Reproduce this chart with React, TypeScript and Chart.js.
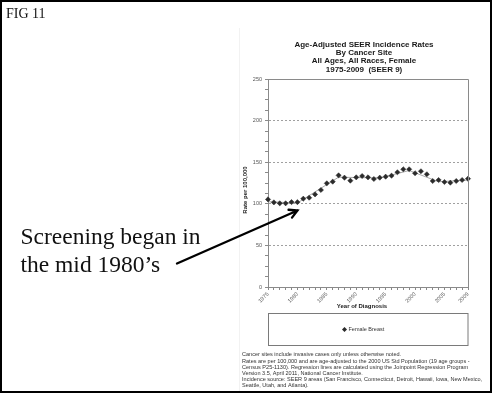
import React, { useEffect, useRef } from 'react';
import { Chart, registerables } from 'chart.js';

Chart.register(...registerables);

// ---- data ----
const years = [
  1975, 1976, 1977, 1978, 1979, 1980, 1981, 1982, 1983, 1984, 1985, 1986,
  1987, 1988, 1989, 1990, 1991, 1992, 1993, 1994, 1995, 1996, 1997, 1998,
  1999, 2000, 2001, 2002, 2003, 2004, 2005, 2006, 2007, 2008, 2009,
];
const rates = [
  105.3, 101.7, 100.6, 100.6, 102.1, 102.0, 106.1, 107.3, 111.3, 116.6, 124.6, 126.6,
  134.2, 131.4, 127.8, 131.8, 133.4, 131.8, 129.8, 131.4, 132.6, 133.8, 137.9, 141.5,
  141.5, 136.7, 139.1, 135.5, 127.4, 128.6, 126.2, 125.4, 127.4, 128.6, 130.2,
];
const trendYears = [1975, 1980, 1987, 1994, 1999, 2004, 2009];
const trendRates = [102.5, 101.0, 132.0, 131.0, 140.0, 126.5, 128.5];
const xTickLabels = [1975, 1980, 1985, 1990, 1995, 2000, 2005, 2009];
const yTickLabels = [0, 50, 100, 150, 200, 250];
const seriesName = 'Female Breast';
const titleLines = [
  'Age-Adjusted SEER Incidence Rates',
  'By Cancer Site',
  'All Ages, All Races, Female',
  '1975-2009  (SEER 9)',
];
const yAxisTitle = 'Rate per 100,000';
const xAxisTitle = 'Year of Diagnosis';
const footnoteLines = [
  'Cancer sites include invasive cases only unless otherwise noted.',
  'Rates are per 100,000 and are age-adjusted to the 2000 US Std Population (19 age groups -',
  'Census P25-1130). Regression lines are calculated using the Joinpoint Regression Program',
  'Version 3.5, April 2011, National Cancer Institute.',
  'Incidence source: SEER 9 areas (San Francisco, Connecticut, Detroit, Hawaii, Iowa, New Mexico,',
  'Seattle, Utah, and Atlanta).',
];
const figLabel = 'FIG 11';
const noteLines = ['Screening began in', 'the mid 1980\u2019s'];

const SANS = '"Liberation Sans", Arial, sans-serif';
const SERIF = '"Liberation Serif", "Times New Roman", serif';

const decorPlugin = {
  id: 'decor',
  beforeDraw(chart: any) {
    const ctx = chart.ctx;
    ctx.save();
    ctx.fillStyle = '#ffffff';
    ctx.fillRect(0, 0, chart.width, chart.height);
    ctx.restore();
  },
  afterDraw(chart: any) {
    const ctx = chart.ctx as CanvasRenderingContext2D;
    const a = chart.chartArea;
    ctx.save();

    // faint edge of pasted chart image
    ctx.strokeStyle = '#f2f2f2';
    ctx.lineWidth = 1;
    ctx.beginPath();
    ctx.moveTo(239.5, 28);
    ctx.lineTo(239.5, 392);
    ctx.stroke();

    // plot frame (top + right)
    ctx.strokeStyle = '#8a8a8a';
    ctx.lineWidth = 1;
    ctx.beginPath();
    ctx.moveTo(Math.round(a.left) + 0.5, Math.round(a.top) + 0.5);
    ctx.lineTo(Math.round(a.right) + 0.5, Math.round(a.top) + 0.5);
    ctx.lineTo(Math.round(a.right) + 0.5, Math.round(a.bottom) + 0.5);
    ctx.stroke();

    // title
    ctx.fillStyle = '#1a1a1a';
    ctx.font = `bold 8px ${SANS}`;
    ctx.textAlign = 'center';
    ctx.textBaseline = 'middle';
    titleLines.forEach((t, i) => ctx.fillText(t, 364, 45 + i * 8.1));

    // axis titles
    ctx.font = `bold 6px ${SANS}`;
    ctx.fillText(xAxisTitle, 362, 306);
    ctx.save();
    ctx.translate(245, 190);
    ctx.rotate(-Math.PI / 2);
    ctx.fillText(yAxisTitle, 0, 0);
    ctx.restore();

    // legend box
    ctx.strokeStyle = '#7a7a7a';
    ctx.lineWidth = 1;
    ctx.strokeRect(268.5, 313.5, 199.5, 32);
    ctx.fillStyle = '#2b2b2b';
    ctx.beginPath();
    ctx.moveTo(344.5 - 2.5, 329.5);
    ctx.lineTo(344.5, 329.5 - 2.5);
    ctx.lineTo(344.5 + 2.5, 329.5);
    ctx.lineTo(344.5, 329.5 + 2.5);
    ctx.closePath();
    ctx.fill();
    ctx.fillStyle = '#333';
    ctx.font = `5.5px ${SANS}`;
    ctx.textAlign = 'left';
    ctx.fillText(seriesName, 348.5, 329.5);

    // footnotes
    ctx.font = `5.55px ${SANS}`;
    ctx.fillStyle = '#333';
    const fy = [354, 361.8, 367.6, 373.4, 379.2, 385.4];
    footnoteLines.forEach((t, i) => ctx.fillText(t, 242, fy[i]));

    // figure label and annotation
    ctx.textBaseline = 'alphabetic';
    ctx.fillStyle = '#111';
    ctx.font = `14px ${SERIF}`;
    ctx.fillText(figLabel, 6, 17.5);
    ctx.font = `23.5px ${SERIF}`;
    ctx.fillText(noteLines[0], 20.5, 244.3);
    ctx.fillText(noteLines[1], 20.5, 271.5);

    // arrow
    const x0 = 177, y0 = 263.5, x1 = 297.5, y1 = 210.5;
    ctx.strokeStyle = '#000';
    ctx.lineWidth = 2.3;
    ctx.lineCap = 'round';
    ctx.beginPath();
    ctx.moveTo(x0, y0);
    ctx.lineTo(x1, y1);
    const ang = Math.atan2(y1 - y0, x1 - x0);
    const L = 9, spread = 0.5;
    ctx.moveTo(x1 - L * Math.cos(ang - spread), y1 - L * Math.sin(ang - spread));
    ctx.lineTo(x1, y1);
    ctx.lineTo(x1 - L * Math.cos(ang + spread), y1 - L * Math.sin(ang + spread));
    ctx.stroke();

    // outer frame
    ctx.strokeStyle = '#000';
    ctx.lineWidth = 2;
    ctx.lineCap = 'butt';
    ctx.strokeRect(1, 1, 490, 391);

    ctx.restore();
  },
};

export default function App() {
  const ref = useRef<HTMLCanvasElement | null>(null);

  useEffect(() => {
    if (!ref.current) return;
    const chart = new Chart(ref.current, {
      type: 'scatter',
      data: {
        datasets: [
          {
            label: seriesName,
            data: years.map((x, i) => ({ x, y: rates[i] })),
            showLine: false,
            pointStyle: 'rectRot',
            pointRadius: 2.6,
            backgroundColor: '#2b2b2b',
            borderColor: '#2b2b2b',
            borderWidth: 0.5,
            clip: false as any,
          },
          {
            label: 'trend',
            data: trendYears.map((x, i) => ({ x, y: trendRates[i] })),
            showLine: true,
            pointRadius: 0,
            borderColor: '#a8a8a8',
            borderWidth: 1,
          },
        ],
      },
      options: {
        responsive: false,
        animation: false,
        devicePixelRatio: 1,
        layout: { padding: { left: 241, right: 25, top: 79, bottom: 87 } },
        plugins: {
          legend: { display: false },
          tooltip: { enabled: false },
          title: { display: false },
        },
        scales: {
          x: {
            type: 'linear',
            min: 1975,
            max: 2009,
            afterBuildTicks: (scale: any) => {
              scale.ticks = years.map((v) => ({ value: v }));
            },
            afterFit: (scale: any) => {
              scale.height = 20;
            },
            ticks: {
              autoSkip: false,
              minRotation: 45,
              maxRotation: 45,
              padding: 1,
              color: '#555',
              font: { size: 5.5, family: SANS },
              callback: (v: any) => (xTickLabels.includes(Number(v)) ? String(v) : ''),
            },
            grid: {
              color: 'rgba(0,0,0,0)',
              tickColor: '#888',
              tickLength: 3,
              drawOnChartArea: false,
            },
            border: { display: true, color: '#8a8a8a', width: 1 },
          },
          y: {
            min: 0,
            max: 250,
            afterBuildTicks: (scale: any) => {
              const t: any[] = [];
              for (let v = 0; v <= 250; v += 12.5) t.push({ value: v });
              scale.ticks = t;
            },
            afterFit: (scale: any) => {
              scale.width = 27;
            },
            ticks: {
              autoSkip: false,
              padding: 3,
              color: '#555',
              font: { size: 5.5, family: SANS },
              callback: (v: any) => (yTickLabels.includes(Number(v)) ? String(v) : ''),
            },
            grid: {
              color: (c: any) => {
                const v = c.tick ? c.tick.value : -1;
                return v > 0 && v < 250 && v % 50 === 0 ? '#a0a0a0' : 'rgba(0,0,0,0)';
              },
              tickColor: '#8a8a8a',
              tickLength: 3,
              lineWidth: 1,
            },
            border: { display: true, color: '#8a8a8a', width: 1, dash: [2, 2] },
          },
        },
      },
      plugins: [decorPlugin],
    });
    return () => chart.destroy();
  }, []);

  return (
    <div style={{ position: 'fixed', left: 0, top: 0, width: 493, height: 394, background: '#fff' }}>
      <canvas ref={ref} width={493} height={394} style={{ display: 'block' }} />
    </div>
  );
}
